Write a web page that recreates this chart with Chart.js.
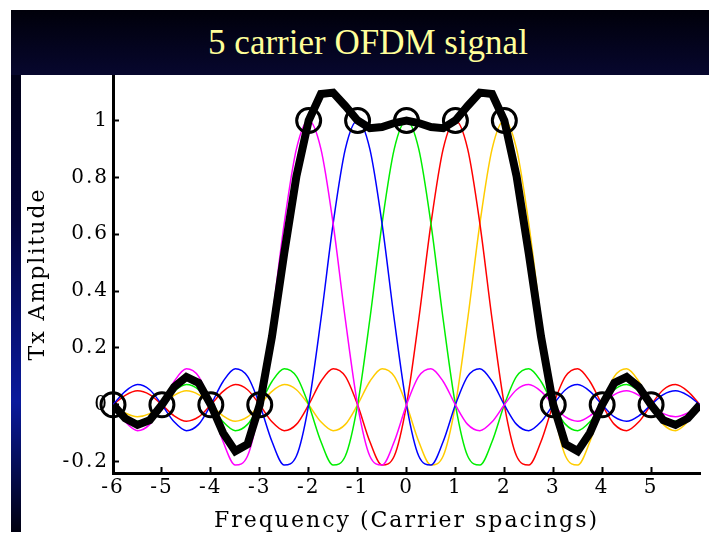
<!DOCTYPE html>
<html>
<head>
<meta charset="utf-8">
<title>5 carrier OFDM signal</title>
<script src="https://cdn.jsdelivr.net/npm/chart.js@4/dist/chart.umd.min.js"></script>
<style>
    html, body { margin: 0; padding: 0; background: #fff; }
    #wrap { position: relative; width: 720px; height: 540px; overflow: hidden; }
    #chart { position: absolute; left: 0; top: 0; }
    #bar { position: absolute; left: 11px; top: 10px; width: 698px; height: 65px; z-index: 2;
        background: linear-gradient( #00000a, #07072e ); }
    #bar h1 { margin: 0; padding-left: 16px; font: normal 35px "Liberation Serif", serif; line-height: 65px;
        color: #ffff99; text-align: center; }
    #strip { position: absolute; left: 11px; top: 10px; width: 10px; height: 522px; z-index: 2;
        background: linear-gradient( #00000a 0%, #03033a 40%, #0a1a9c 75%, #000010 100% ); }
</style>
</head>
<body>
<div id="wrap">
    <canvas id="chart" width="720" height="540"></canvas>
    <div id="strip"></div>
    <div id="bar"><h1>5 carrier OFDM signal</h1></div>
</div>
<script>
// frequency axis, in carrier spacings
var xs = [ -6, -5.75, -5.5, -5.25, -5, -4.75, -4.5, -4.25, -4, -3.75, -3.5, -3.25, -3, -2.75, -2.5, -2.25,
    -2, -1.75, -1.5, -1.25, -1, -0.75, -0.5, -0.25, 0, 0.25, 0.5, 0.75, 1, 1.25, 1.5, 1.75,
    2, 2.25, 2.5, 2.75, 3, 3.25, 3.5, 3.75, 4, 4.25, 4.5, 4.75, 5, 5.25, 5.5, 5.75, 6 ];

// one carrier each, centred on -2, -1, 0, 1, 2
var carrierM2 = [ 0, -0.060, -0.091, -0.069, 0, 0.082, 0.127, 0.100, 0, -0.129, -0.212, -0.180, 0, 0.300, 0.637, 0.900,
    1, 0.900, 0.637, 0.300, 0, -0.180, -0.212, -0.129, 0, 0.100, 0.127, 0.082, 0, -0.069, -0.091, -0.060,
    0, 0.053, 0.071, 0.047, 0, -0.043, -0.058, -0.039, 0, 0.036, 0.049, 0.033, 0, -0.031, -0.042, -0.029, 0 ];
var carrierM1 = [ 0, 0.047, 0.071, 0.053, 0, -0.060, -0.091, -0.069, 0, 0.082, 0.127, 0.100, 0, -0.129, -0.212, -0.180,
    0, 0.300, 0.637, 0.900, 1, 0.900, 0.637, 0.300, 0, -0.180, -0.212, -0.129, 0, 0.100, 0.127, 0.082,
    0, -0.069, -0.091, -0.060, 0, 0.053, 0.071, 0.047, 0, -0.043, -0.058, -0.039, 0, 0.036, 0.049, 0.033, 0 ];
var carrier0 = [ 0, -0.039, -0.058, -0.043, 0, 0.047, 0.071, 0.053, 0, -0.060, -0.091, -0.069, 0, 0.082, 0.127, 0.100,
    0, -0.129, -0.212, -0.180, 0, 0.300, 0.637, 0.900, 1, 0.900, 0.637, 0.300, 0, -0.180, -0.212, -0.129,
    0, 0.100, 0.127, 0.082, 0, -0.069, -0.091, -0.060, 0, 0.053, 0.071, 0.047, 0, -0.043, -0.058, -0.039, 0 ];
var carrierP1 = [ 0, 0.033, 0.049, 0.036, 0, -0.039, -0.058, -0.043, 0, 0.047, 0.071, 0.053, 0, -0.060, -0.091, -0.069,
    0, 0.082, 0.127, 0.100, 0, -0.129, -0.212, -0.180, 0, 0.300, 0.637, 0.900, 1, 0.900, 0.637, 0.300,
    0, -0.180, -0.212, -0.129, 0, 0.100, 0.127, 0.082, 0, -0.069, -0.091, -0.060, 0, 0.053, 0.071, 0.047, 0 ];
var carrierP2 = [ 0, -0.029, -0.042, -0.031, 0, 0.033, 0.049, 0.036, 0, -0.039, -0.058, -0.043, 0, 0.047, 0.071, 0.053,
    0, -0.060, -0.091, -0.069, 0, 0.082, 0.127, 0.100, 0, -0.129, -0.212, -0.180, 0, 0.300, 0.637, 0.900,
    1, 0.900, 0.637, 0.300, 0, -0.180, -0.212, -0.129, 0, 0.100, 0.127, 0.082, 0, -0.069, -0.091, -0.060, 0 ];

// the transmitted signal (thick black)
var total = [ 0, -0.048, -0.071, -0.054, 0, 0.063, 0.098, 0.077, 0, -0.099, -0.163, -0.139, 0, 0.240, 0.532, 0.804,
    1, 1.093, 1.098, 1.051, 1, 0.973, 0.977, 0.991, 1, 0.991, 0.977, 0.973, 1, 1.051, 1.098, 1.093,
    1, 0.804, 0.532, 0.240, 0, -0.139, -0.163, -0.099, 0, 0.077, 0.098, 0.063, 0, -0.054, -0.071, -0.048, 0 ];

// circles at the carrier spacings
var markX = [ -6, -5, -4, -3, -2, -1, 0, 1, 2, 3, 4, 5 ];
var markY = [ 0, 0, 0, 0, 1, 1, 1, 1, 1, 0, 0, 0 ];

var xTicks = [ -6, -5, -4, -3, -2, -1, 0, 1, 2, 3, 4, 5 ];
var yTicks = [ -0.2, 0, 0.2, 0.4, 0.6, 0.8, 1 ];

function points( ys ) {
    return ys.map( function ( y, i ) { return { x: xs[ i ], y: y }; } );
}

function carrier( ys, color ) {
    return {
        data: points( ys ),
        borderColor: color,
        borderWidth: 1.5,
        pointRadius: 0,
        cubicInterpolationMode: "monotone",
        order: 2
    };
}

// matlab-ish stretched text
var spacing = {
    id: "spacing",
    beforeLayout: function ( chart ) { chart.ctx.letterSpacing = "2px"; },
    beforeDraw: function ( chart ) { chart.ctx.letterSpacing = "2px"; }
};

var tickFont = { family: "DejaVu Serif", size: 20 };
var titleFont = { family: "DejaVu Serif", size: 22 };

Chart.defaults.color = "#000";

new Chart( document.getElementById( "chart" ), {
    type: "line",
    data: {
        datasets: [ {
            data: markX.map( function ( x, i ) { return { x: x, y: markY[ i ] }; } ),
            showLine: false,
            pointRadius: 12,
            pointHoverRadius: 12,
            pointBorderWidth: 3,
            pointBorderColor: "#000",
            pointBackgroundColor: "rgba(0,0,0,0)",
            clip: false,
            order: 0
        }, {
            data: points( total ),
            borderColor: "#000",
            borderWidth: 8,
            pointRadius: 0,
            tension: 0,
            order: 1
        },
            carrier( carrierM2, "#ff00ff" ),
            carrier( carrierM1, "#0000ff" ),
            carrier( carrier0, "#00ee00" ),
            carrier( carrierP1, "#ff0000" ),
            carrier( carrierP2, "#ffcc00" )
        ]
    },
    options: {
        responsive: false,
        animation: false,
        layout: { padding: { top: 75, right: 20, left: 0, bottom: 0 } },
        plugins: {
            legend: { display: false },
            tooltip: { enabled: false }
        },
        scales: {
            x: {
                type: "linear",
                min: -6,
                max: 6,
                afterBuildTicks: function ( scale ) {
                    scale.ticks = xTicks.map( function ( v ) { return { value: v }; } );
                },
                afterFit: function ( scale ) { scale.height = 67; },
                ticks: {
                    font: tickFont,
                    padding: 9,
                    autoSkip: false,
                    maxRotation: 0,
                    callback: function ( value ) { return String( value ); }
                },
                grid: { drawOnChartArea: false, tickLength: -6, tickColor: "#000", tickWidth: 2 },
                border: { color: "#000", width: 3 },
                title: {
                    display: true,
                    text: "Frequency (Carrier spacings)",
                    font: titleFont,
                    padding: { top: 0, bottom: 6 }
                }
            },
            y: {
                min: -0.24,
                max: 1.16,
                afterBuildTicks: function ( scale ) {
                    scale.ticks = yTicks.map( function ( v ) { return { value: v }; } );
                },
                afterFit: function ( scale ) { scale.width = 113; },
                ticks: {
                    font: tickFont,
                    padding: 10,
                    callback: function ( value ) { return String( value ); }
                },
                grid: { drawOnChartArea: false, tickLength: -6, tickColor: "#000", tickWidth: 2 },
                border: { color: "#000", width: 3 },
                title: {
                    display: true,
                    text: "Tx Amplitude",
                    font: titleFont,
                    padding: { top: 25, bottom: 0 }
                }
            }
        }
    },
    plugins: [ spacing ]
} );
</script>
</body>
</html>
